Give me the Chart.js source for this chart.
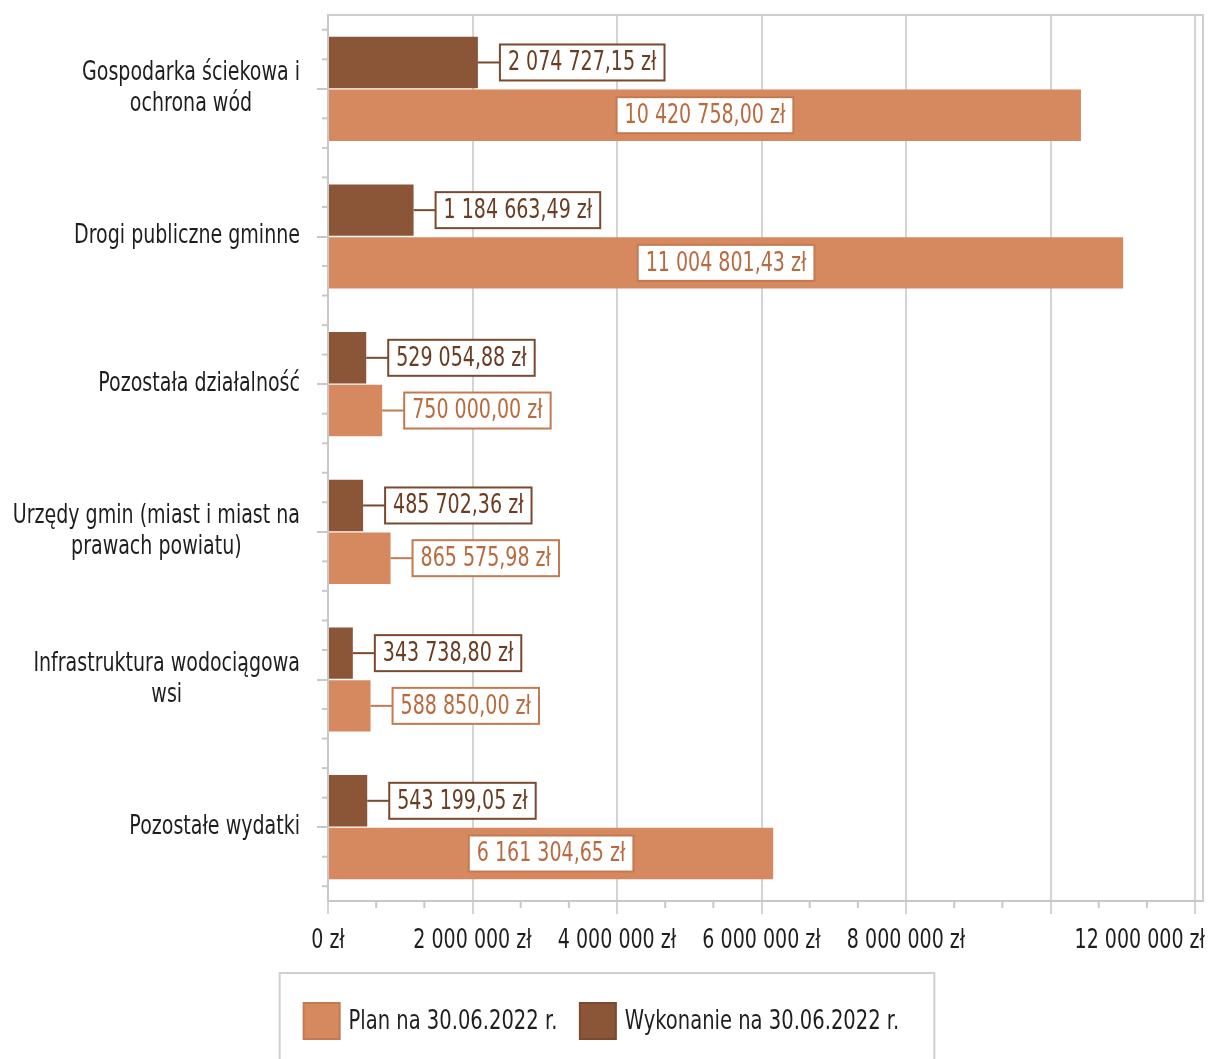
<!DOCTYPE html>
<html><head><meta charset="utf-8">
<script src="https://cdn.jsdelivr.net/npm/chart.js@4"></script>
<style>html,body{margin:0;padding:0;background:#fff}</style>
</head><body><canvas id="c" width="1211" height="1059"></canvas>
<script>
const categories = [["Gospodarka ściekowa i","ochrona wód"],["Drogi publiczne gminne"],["Pozostała działalność"],["Urzędy gmin (miast i miast na","prawach powiatu)"],["Infrastruktura wodociągowa","wsi"],["Pozostałe wydatki"]];
const seriesNames = ["Wykonanie na 30.06.2022 r.","Plan na 30.06.2022 r."];
const wykonanie = [2074727.15,1184663.49,529054.88,485702.36,343738.80,543199.05];
const plan = [10420758.00,11004801.43,750000.00,865575.98,588850.00,6161304.65];
const tickValues = [0,2000000,4000000,6000000,8000000,10000000,12000000];
const tickLabels = ["0 zł","2 000 000 zł","4 000 000 zł","6 000 000 zł","8 000 000 zł","","12 000 000 zł"];
const axisMax = 12110000;

const COLORS = {
  dark:{fill:'#8b5638', border:'#7a4a2f', text:'#6b3c22'},
  plan:{fill:'#d6895f', border:'#c47a51', text:'#b96a3e'}
};
const TXT = '#1e1e1e';
const FONT_SIZE = 26;
const LEG_SIZE = 21.6;
let SX = 0.8;

function fmt(v){
  const s = v.toFixed(2).split('.');
  const intp = s[0].replace(/\B(?=(\d{3})+(?!\d))/g,' ');
  return intp + ',' + s[1] + ' zł';
}
function font(sz){return (sz||FONT_SIZE) + "px 'DejaVu Sans'";}
function textW(ctx,t,sz){ctx.save();ctx.font=font(sz);const w=ctx.measureText(t).width*SX;ctx.restore();return w;}
function drawText(ctx,t,x,y,align,color,sz){
  ctx.save();ctx.font=font(sz);ctx.fillStyle=color;ctx.textBaseline='middle';ctx.textAlign=align;
  ctx.translate(x,y);ctx.scale(SX,1);ctx.fillText(t,0,0);ctx.restore();
}

const decor = {
  id:'decor',
  beforeDraw(chart){
    const ctx = chart.ctx;
    ctx.save();ctx.font=font();
    SX = 226/ctx.measureText('Drogi publiczne gminne').width;
    ctx.restore();
  },
  afterDraw(chart){
    const ctx = chart.ctx, ca = chart.chartArea;
    const xs = chart.scales.x, ys = chart.scales.y;
    ctx.save();ctx.strokeStyle='#cfcfcf';ctx.lineWidth=2;
    ctx.beginPath();ctx.moveTo(ca.left,ca.top);ctx.lineTo(ca.right,ca.top);ctx.lineTo(ca.right,ca.bottom);ctx.stroke();
    ctx.strokeStyle='#c8c8c8';
    for(let k=0;k<=18;k++){
      if(k%3===0) continue;
      const x = xs.getPixelForValue(k*2000000/3);
      ctx.beginPath();ctx.moveTo(x,ca.bottom);ctx.lineTo(x,ca.bottom+7);ctx.stroke();
    }
    const step = ys.getPixelForTick(1)-ys.getPixelForTick(0);
    for(let i=0;i<categories.length;i++){
      const c = ys.getPixelForTick(i);
      [-0.4,-0.2,0.2,0.4].forEach(o=>{
        ctx.beginPath();ctx.moveTo(ca.left-6,c+o*step);ctx.lineTo(ca.left,c+o*step);ctx.stroke();
      });
    }
    ctx.restore();
    for(let i=0;i<categories.length;i++){
      const lines = categories[i];
      const c = ys.getPixelForTick(i);
      const bw = Math.max(...lines.map(l=>textW(ctx,l)));
      const cx = ca.left-28-bw/2;
      lines.forEach((l,j)=>drawText(ctx,l,cx,c+(j-(lines.length-1)/2)*31,'center',TXT));
    }
    tickValues.forEach((v,i)=>{
      const t = tickLabels[i]; if(!t) return;
      const x = xs.getPixelForValue(v); const w = textW(ctx,t);
      let left = x-w/2; if(left+w>ca.right+2) left = ca.right+2-w;
      drawText(ctx,t,left,ca.bottom+40,'left',TXT);
    });
    chart.data.datasets.forEach((ds,d)=>{
      const col = d===0?COLORS.dark:COLORS.plan;
      chart.getDatasetMeta(d).data.forEach((el,i)=>{
        const t = fmt(ds.data[i]);
        const tw = textW(ctx,t), bw = tw+16, bh = 36;
        const barW = el.x-el.base;
        let bx;
        ctx.save();ctx.strokeStyle=col.border;ctx.lineWidth=2;
        if(barW > bw+20){ bx = (el.x+el.base)/2 - bw/2; }
        else {
          bx = el.x+22;
          ctx.beginPath();ctx.moveTo(el.x,el.y);ctx.lineTo(bx,el.y);ctx.stroke();
        }
        ctx.fillStyle='#fff';ctx.fillRect(bx,el.y-bh/2,bw,bh);
        ctx.strokeRect(bx,el.y-bh/2,bw,bh);
        ctx.restore();
        drawText(ctx,t,bx+bw/2,el.y+1,'center',col.text);
      });
    });
    const lg = chart.legend;
    if(lg && lg.legendHitBoxes && lg.legendHitBoxes.length){
      const hb = lg.legendHitBoxes;
      const items = lg.legendItems;
      hb.forEach((h,i)=>{
        drawText(ctx,items[i].text,h.left+36+LEG_SIZE/2-2,h.top+h.height/2+1,'left',TXT,26.7);
      });
      const l = Math.min(...hb.map(h=>h.left))-24;
      const r = Math.max(...hb.map(h=>h.left+h.width))+35;
      ctx.save();ctx.strokeStyle='#d0d0d0';ctx.lineWidth=2;
      ctx.strokeRect(l,lg.top-8,r-l,200);ctx.restore();
    }
  }
};

new Chart(document.getElementById('c'),{
  type:'bar',
  data:{
    labels:categories,
    datasets:[
      {label:seriesNames[0],data:wykonanie,backgroundColor:COLORS.dark.fill,legendBorder:COLORS.dark.border,borderWidth:0,categoryPercentage:0.714,barPercentage:0.975},
      {label:seriesNames[1],data:plan,backgroundColor:COLORS.plan.fill,legendBorder:COLORS.plan.border,borderWidth:0,categoryPercentage:0.714,barPercentage:0.975}
    ]
  },
  options:{
    responsive:false,animation:false,indexAxis:'y',
    layout:{padding:{top:15,right:8,left:0,bottom:10}},
    plugins:{
      tooltip:{enabled:false},
      legend:{position:'bottom',reverse:true,
        labels:{boxWidth:36,boxHeight:36,padding:22,color:'rgba(0,0,0,0)',
          font:{family:"'DejaVu Sans Condensed','DejaVu Sans'",size:LEG_SIZE},
          generateLabels(chart){
            return chart.data.datasets.map((ds,i)=>({text:ds.label,fillStyle:ds.backgroundColor,strokeStyle:ds.legendBorder,lineWidth:2,hidden:false,datasetIndex:i,fontColor:'rgba(0,0,0,0)'}));
          }}}
    },
    scales:{
      x:{min:0,max:axisMax,
        afterBuildTicks(s){s.ticks = tickValues.map(v=>({value:v}));},
        ticks:{display:false},
        grid:{color:'#d4d4d4',lineWidth:2,tickLength:13,drawTicks:true},
        border:{color:'#c8c8c8',width:2},
        afterFit(s){s.height=80;}},
      y:{ticks:{display:false},
        grid:{drawOnChartArea:false,offset:false,tickLength:11,color:'#c8c8c8',lineWidth:2},
        border:{color:'#c8c8c8',width:2},
        afterFit(s){s.width=328;}}
    }
  },
  plugins:[decor]
});
</script></body></html>
